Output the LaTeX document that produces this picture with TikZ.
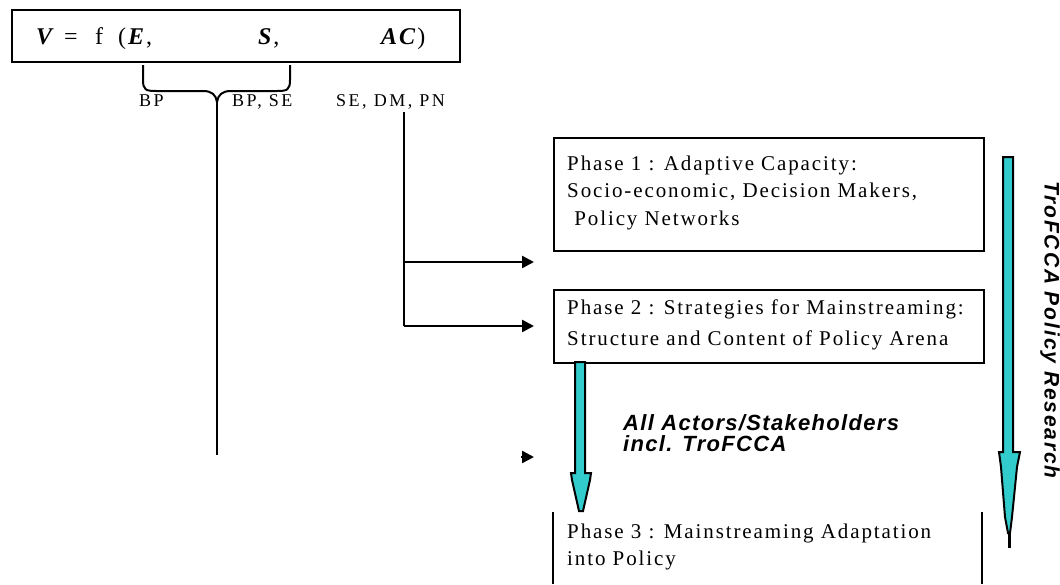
\documentclass[tikz,border=0pt]{standalone}
\usepackage{fontspec}
\setmainfont{Liberation Serif}
\newfontfamily\phasefont{Liberation Serif}[LetterSpace=9]
\newfontfamily\labelfont{Liberation Serif}[LetterSpace=14]
\newfontfamily\formfont{Liberation Serif}[LetterSpace=8]
\newfontfamily\actorfont{Liberation Sans}[LetterSpace=6]
\newfontfamily\sidefont{Liberation Sans}[LetterSpace=9]
\usetikzlibrary{arrows.meta}
\definecolor{arrowteal}{RGB}{51,204,204}
\tikzset{
  phasebox/.style={draw, line width=2pt, anchor=north west, inner sep=0pt},
  phtext/.style={font=\phasefont\fontsize{21}{21}\selectfont, inner sep=0pt, anchor=base west},
  lbltext/.style={font=\labelfont\fontsize{18}{18}\selectfont, inner sep=0pt, anchor=base west},
  frm/.style={font=\formfont\fontsize{24}{24}\selectfont, inner sep=0pt, anchor=base west},
  conn/.style={line width=2.5pt, -{Triangle[length=12pt,width=12pt]}},
  plain/.style={line width=2.5pt},
  blockarrow/.style={fill=arrowteal, draw=black, line width=2pt, line join=miter},
  actor/.style={font=\actorfont\bfseries\itshape\fontsize{22}{22}\selectfont, inner sep=0pt, anchor=base west}
}
\begin{document}
\begin{tikzpicture}[x=1pt,y=-1pt]
\useasboundingbox (0,0) rectangle (1060,584);
% formula box
\node[phasebox, minimum width=448pt, minimum height=52pt] (fbox) at (11,9) {};
\node[frm] (fV) at (36,44) {\textbf{\textit{V}}};
\node[frm] (feq) at (64,44) {=};
\node[frm] (ff) at (95,44) {f};
\node[frm] (fE) at (118,44) {(\textbf{\textit{E}},};
\node[frm] (fS) at (258,44) {\textbf{\textit{S}},};
\node[frm] (fAC) at (381,44) {\textbf{\textit{AC}})};
% brace
\coordinate (brL) at (143,65);
\coordinate (brR) at (290,65);
\coordinate (brTip) at (217,102);
\coordinate (vEnd) at (217,455);
\draw[line width=2pt] (brL) -- (143,80) .. controls (143,90) and (146,91) .. (156,91) -- (203,91) .. controls (212,91) and (216,95) .. (brTip);
\draw[line width=2pt] (brR) -- (290,80) .. controls (290,90) and (287,91) .. (277,91) -- (231,91) .. controls (222,91) and (218,95) .. (brTip);
\draw[plain] (brTip) -- (vEnd);
% labels
\node[lbltext] (l1) at (139,106) {BP};
\node[lbltext] (l2) at (232,106) {BP, SE};
\node[lbltext] (l3) at (336,106) {SE, DM, PN};
% phase boxes
\node[phasebox, minimum width=430pt, minimum height=113pt] (p1) at (553,137) {};
\node[phasebox, minimum width=430pt, minimum height=73pt] (p2) at (553,289) {};
\node[phtext] (p1a) at (567,170) {Phase 1 : Adaptive Capacity:};
\node[phtext] (p1b) at (567,197) {Socio-economic, Decision Makers,};
\node[phtext] (p1c) at (567,225) {\ Policy Networks};
\node[phtext] (p2a) at (567,314) {Phase 2 : Strategies for Mainstreaming:};
\node[phtext] (p2b) at (567,345) {Structure and Content of Policy Arena};
\node[phtext] (p3a) at (567,538) {Phase 3 : Mainstreaming Adaptation};
\node[phtext] (p3b) at (567,565) {into Policy};
% phase 3 partial box
\coordinate (p3tl) at (553,512);
\coordinate (p3bl) at (553,584);
\coordinate (p3tr) at (982,512);
\coordinate (p3br) at (982,584);
\draw[line width=2pt] (p3tl) -- (p3bl);
\draw[line width=2pt] (p3tr) -- (p3br);
% connectors
\coordinate (cTop) at (404,112);
\coordinate (cMid) at (404,262);
\coordinate (cBot) at (404,326);
\coordinate (a1) at (534,262);
\coordinate (a2) at (534,326);
\draw[plain] (cTop) -- (cBot);
\draw[conn] (cMid) -- (a1);
\draw[conn] (cBot) -- (a2);
% stray arrowhead
\coordinate (sa0) at (521,457);
\coordinate (sa1) at (534,457);
\draw[conn] (sa0) -- (sa1);
% short teal arrow
\draw[blockarrow] (575,362) -- (575,473) -- (571,473) -- (572,480) -- (579,511) -- (583,511) -- (590,480) -- (591,473) -- (585,473) -- (585,362) -- cycle;
% long teal arrow
\draw[blockarrow] (1003,157) -- (1003,452) -- (999,452) -- (1001,467) -- (1005,517) -- (1008,533) -- (1010,533) -- (1012,517) -- (1017,467) -- (1020,452) -- (1013,452) -- (1013,157) -- cycle;
\coordinate (st0) at (1009,533);
\coordinate (st1) at (1009,548);
\draw[line width=3pt] (st0) -- (st1);
% texts
\node[actor] (act1) at (623,430) {All Actors/Stakeholders};
\node[actor] (act2) at (623,451) {incl. TroFCCA};
\node[font=\sidefont\bfseries\itshape\fontsize{21}{21}\selectfont, inner sep=0pt, rotate=-90] (side) at (1050,330) {TroFCCA Policy Research};
\end{tikzpicture}
\end{document}
